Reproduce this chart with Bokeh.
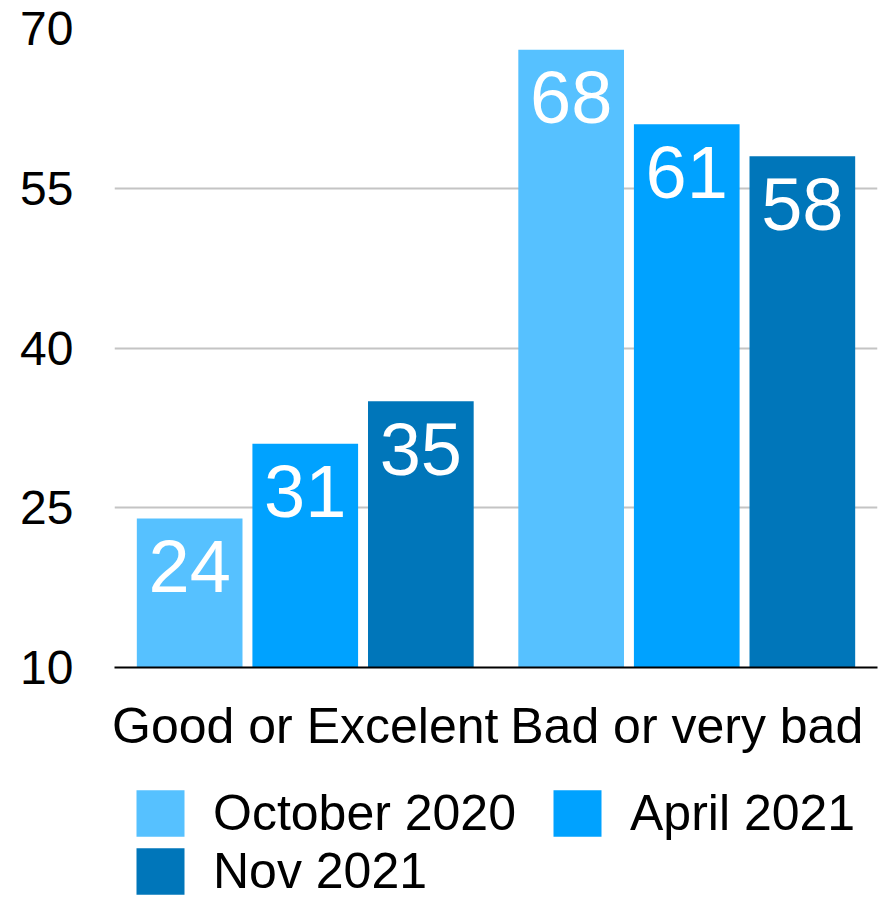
from bokeh.plotting import figure
from bokeh.layouts import column
from bokeh.models import ColumnDataSource, FactorRange, Range1d, FixedTicker, Legend, LegendItem
from bokeh.transform import dodge
from bokeh.core.properties import value
from bokeh.embed import file_html
from bokeh.resources import INLINE

# ---- data ----
categories = ["Good or Excelent", "Bad or very bad"]
series_names = ["October 2020", "April 2021", "Nov 2021"]
october_2020 = [24, 68]
april_2021 = [31, 61]
nov_2021 = [35, 58]
y_ticks = [10, 25, 40, 55, 70]
y_min, y_max = 10, 70

colors = ["#56C1FF", "#00A2FF", "#0076BA"]
FONT = "Liberation Sans"

src = ColumnDataSource(dict(
    cat=categories,
    s0=october_2020, s1=april_2021, s2=nov_2021,
    l0=[str(v) for v in october_2020],
    l1=[str(v) for v in april_2021],
    l2=[str(v) for v in nov_2021],
))

p = figure(
    x_range=FactorRange(factors=categories, range_padding=0),
    y_range=Range1d(y_min, y_max),
    width=882, height=767,
    output_backend="svg", toolbar_location=None,
    min_border_left=114, min_border_right=5,
    min_border_top=28, min_border_bottom=100,
)
p.outline_line_color = None
p.background_fill_color = "white"
p.border_fill_color = "white"

# axes
p.yaxis.ticker = FixedTicker(ticks=y_ticks)
p.yaxis.axis_line_color = None
p.yaxis.major_tick_line_color = None
p.yaxis.minor_tick_line_color = None
p.yaxis.major_tick_out = 0
p.yaxis.major_tick_in = 0
p.yaxis.major_label_standoff = 41
p.yaxis.major_label_text_font = FONT
p.yaxis.major_label_text_font_size = "48px"
p.yaxis.major_label_text_color = "black"

p.xaxis.axis_line_color = "black"
p.xaxis.axis_line_width = 2
p.xaxis.major_tick_line_color = None
p.xaxis.minor_tick_line_color = None
p.xaxis.major_tick_out = 0
p.xaxis.major_tick_in = 0
p.xaxis.major_label_standoff = 30
p.xaxis.major_label_text_font = FONT
p.xaxis.major_label_text_font_size = "50px"
p.xaxis.major_label_text_color = "black"

p.xgrid.grid_line_color = None
p.ygrid.grid_line_color = "#C4C4C4"
p.ygrid.grid_line_width = 2

offsets = [-0.303, 0.0, 0.303]
for i in range(3):
    p.vbar(x=dodge("cat", offsets[i], range=p.x_range), top=f"s{i}", bottom=y_min,
           width=0.277, fill_color=colors[i], line_color=None, source=src)
    p.text(x=dodge("cat", offsets[i], range=p.x_range), y=f"s{i}", text=f"l{i}",
           text_color="white", text_font=value(FONT), text_font_size="74px",
           text_align="center", text_baseline="alphabetic", y_offset=48, source=src)

# ---- legend strip (own figure so the legend is not clipped by the main frame) ----
lf = figure(
    x_range=FactorRange(factors=categories), y_range=Range1d(1000, 1001),
    width=882, height=133, output_backend="svg", toolbar_location=None,
    x_axis_location=None, y_axis_location=None, min_border=0,
)
lf.outline_line_color = None
lf.grid.visible = False
lf.border_fill_color = "white"
lf.background_fill_color = "white"

leg_renderers = []
for i in range(3):
    r = lf.vbar(x=dodge("cat", offsets[i], range=lf.x_range), top=f"s{i}", bottom=y_min,
                width=0.277, fill_color=colors[i], line_color=None, source=src)
    leg_renderers.append(r)

legend = Legend(
    items=[LegendItem(label=series_names[i], renderers=[leg_renderers[i]]) for i in range(3)],
    orientation="horizontal", ncols=2,
    location=(16, 0),
    glyph_width=60, glyph_height=58, label_standoff=23, spacing=0, label_width=334,
    padding=0, margin=0, border_line_color=None, background_fill_alpha=0,
    label_text_font=FONT, label_text_font_size="50px", label_text_color="black",
)
lf.add_layout(legend, "center")

layout = column(p, lf, spacing=0)
open("out.html", "w").write(file_html(layout, INLINE))
